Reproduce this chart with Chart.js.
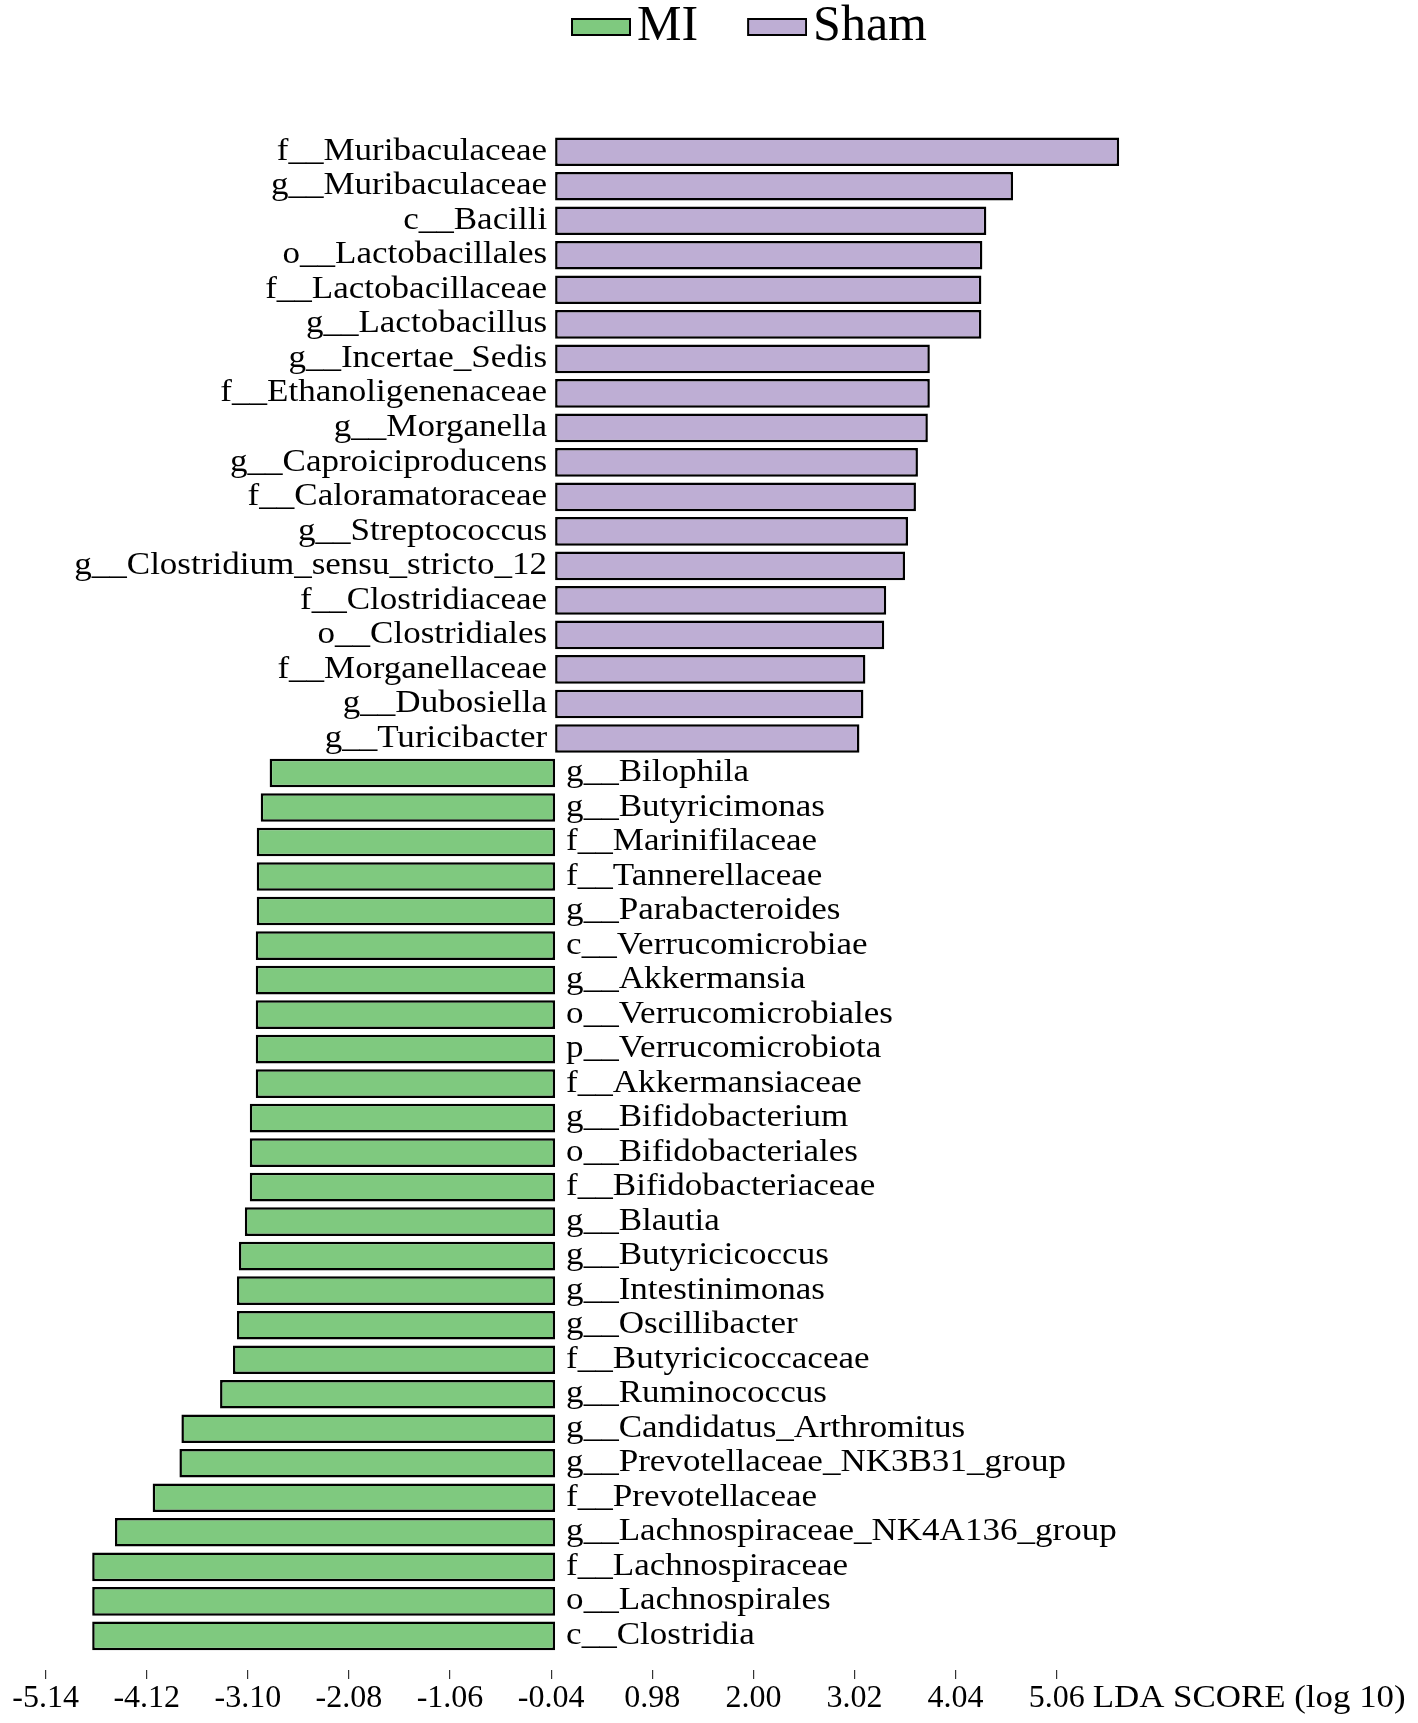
<!DOCTYPE html>
<html>
<head>
<meta charset="utf-8">
<script src="https://cdn.jsdelivr.net/npm/chart.js@4.4.1/dist/chart.umd.min.js"></script>
<style>
html,body{margin:0;padding:0;background:#fff;overflow:hidden;}
#wrap{position:relative;width:1479px;height:1723px;}
</style>
</head>
<body>
<div id="wrap"><canvas id="c"></canvas></div>
<script>
// ---- data ----
const groupNames = ['MI', 'Sham'];
const shamLabels = ['f__Muribaculaceae', 'g__Muribaculaceae', 'c__Bacilli', 'o__Lactobacillales', 'f__Lactobacillaceae', 'g__Lactobacillus', 'g__Incertae_Sedis', 'f__Ethanoligenenaceae', 'g__Morganella', 'g__Caproiciproducens', 'f__Caloramatoraceae', 'g__Streptococcus', 'g__Clostridium_sensu_stricto_12', 'f__Clostridiaceae', 'o__Clostridiales', 'f__Morganellaceae', 'g__Dubosiella', 'g__Turicibacter'];
const shamScores = [5.69, 4.62, 4.35, 4.31, 4.30, 4.30, 3.78, 3.78, 3.76, 3.66, 3.64, 3.56, 3.53, 3.34, 3.32, 3.13, 3.11, 3.07];
const miLabels = ['g__Bilophila', 'g__Butyricimonas', 'f__Marinifilaceae', 'f__Tannerellaceae', 'g__Parabacteroides', 'c__Verrucomicrobiae', 'g__Akkermansia', 'o__Verrucomicrobiales', 'p__Verrucomicrobiota', 'f__Akkermansiaceae', 'g__Bifidobacterium', 'o__Bifidobacteriales', 'f__Bifidobacteriaceae', 'g__Blautia', 'g__Butyricicoccus', 'g__Intestinimonas', 'g__Oscillibacter', 'f__Butyricicoccaceae', 'g__Ruminococcus', 'g__Candidatus_Arthromitus', 'g__Prevotellaceae_NK3B31_group', 'f__Prevotellaceae', 'g__Lachnospiraceae_NK4A136_group', 'f__Lachnospiraceae', 'o__Lachnospirales', 'c__Clostridia'];
const miScores = [-2.88, -2.97, -3.01, -3.01, -3.01, -3.02, -3.02, -3.02, -3.02, -3.02, -3.08, -3.08, -3.08, -3.13, -3.19, -3.21, -3.21, -3.25, -3.38, -3.77, -3.79, -4.06, -4.44, -4.67, -4.67, -4.67];
const xTickLabels = ['-5.14', '-4.12', '-3.10', '-2.08', '-1.06', '-0.04', '0.98', '2.00', '3.02', '4.04', '5.06'];
const axisTitle = 'LDA SCORE (log 10)';

// ---- styling ----
const FONT = "'Liberation Serif', 'Times New Roman', serif";
const colors = ['#7FC97F', '#BEAED4'];
const LABEL_SIZE = 31;      // bar label font
const LABEL_STRETCH = 1.13; // horizontal stretch of bar labels
const TICK_SIZE = 32;
const TICK_LEN = 9;
const TICK_PAD = 4;
const LEGEND_SIZE = 50;
const BAR_BORDER = 2.5;
Chart.defaults.font.family = FONT;
Chart.defaults.color = '#000';

const nSham = shamLabels.length;
const miData = miScores.map((v, i) => ({ x: v, y: nSham + i }));
const shamData = shamScores.map((v, i) => ({ x: v, y: i }));

// legend swatches (box drawn close to its text)
function makeSwatch(color) {
  const c = document.createElement('canvas');
  c.width = 98; c.height = 18;
  const g = c.getContext('2d');
  g.fillStyle = color;
  g.fillRect(38, 0, 60, 18);
  g.strokeStyle = '#000';
  g.lineWidth = 2;
  g.strokeRect(39, 1, 58, 16);
  return c;
}
const swatches = colors.map(makeSwatch);

function stretchedText(ctx, text, x, y, align, sx) {
  ctx.save();
  ctx.translate(x, y);
  ctx.scale(sx, 1);
  ctx.textAlign = align;
  ctx.fillText(text, 0, 0);
  ctx.restore();
}

const labelPlugin = {
  id: 'barLabels',
  afterDatasetsDraw(chart) {
    const ctx = chart.ctx;
    ctx.save();
    ctx.font = LABEL_SIZE + 'px ' + FONT;
    ctx.fillStyle = '#000';
    ctx.textBaseline = 'middle';
    chart.data.datasets.forEach((ds, di) => {
      const meta = chart.getDatasetMeta(di);
      meta.data.forEach((el, i) => {
        const name = ds.names[i];
        if (ds.data[i].x >= 0) stretchedText(ctx, name, el.base - 8, el.y, 'right', LABEL_STRETCH);
        else stretchedText(ctx, name, el.base + 11, el.y, 'left', LABEL_STRETCH);
      });
    });
    // axis title after the last tick label
    const xs = chart.scales.x;
    const last = xTickLabels[xTickLabels.length - 1];
    const px = xs.getPixelForValue(parseFloat(last));
    ctx.font = TICK_SIZE + 'px ' + FONT;
    const w = ctx.measureText(last).width;
    const y = xs.top + TICK_LEN + TICK_PAD + TICK_SIZE / 2;
    stretchedText(ctx, axisTitle, px + w / 2 + ctx.measureText(' ').width, y, 'left', 1.09);
    ctx.restore();
  }
};

new Chart(document.getElementById('c'), {
  type: 'bar',
  data: {
    datasets: [
      { label: groupNames[0], names: miLabels, data: miData, backgroundColor: colors[0], borderColor: '#000', borderWidth: BAR_BORDER, borderSkipped: false },
      { label: groupNames[1], names: shamLabels, data: shamData, backgroundColor: colors[1], borderColor: '#000', borderWidth: BAR_BORDER, borderSkipped: false }
    ]
  },
  options: {
    indexAxis: 'y',
    responsive: true,
    maintainAspectRatio: false,
    animation: false,
    devicePixelRatio: 1,
    grouped: false,
    categoryPercentage: 1,
    barPercentage: 0.83,
    layout: { padding: { top: -28, bottom: 4, left: 0, right: 0 } },
    plugins: {
      legend: {
        display: true,
        position: 'top',
        labels: {
          usePointStyle: true,
          pointStyleWidth: 60,
          boxWidth: 60,
          boxHeight: 18,
          padding: 30,
          color: '#000',
          font: { size: LEGEND_SIZE, family: FONT },
          generateLabels(chart) {
            const items = Chart.defaults.plugins.legend.labels.generateLabels(chart);
            items.forEach((it, i) => { it.pointStyle = swatches[i]; });
            return items;
          }
        }
      },
      tooltip: { enabled: false }
    },
    scales: {
      y: {
        type: 'linear', reverse: true, offset: false, min: -2.6, max: 43.99, display: false, grid: { display: false },
        afterBuildTicks(scale) {
          const t = [];
          for (let i = 0; i < nSham + miLabels.length; i++) t.push({ value: i });
          scale.ticks = t;
        }
      },
      x: {
        type: 'linear', min: -5.6, max: 9.32,
        border: { display: false },
        grid: { drawOnChartArea: false, drawTicks: true, tickLength: TICK_LEN, color: '#333', lineWidth: 1.2 },
        afterBuildTicks(scale) { scale.ticks = xTickLabels.map(s => ({ value: parseFloat(s) })); },
        ticks: { autoSkip: false, maxRotation: 0, padding: TICK_PAD, color: '#000', font: { size: TICK_SIZE, family: FONT, lineHeight: 1 }, callback: (value, index) => xTickLabels[index] }
      }
    }
  },
  plugins: [labelPlugin]
});
</script>
</body>
</html>
